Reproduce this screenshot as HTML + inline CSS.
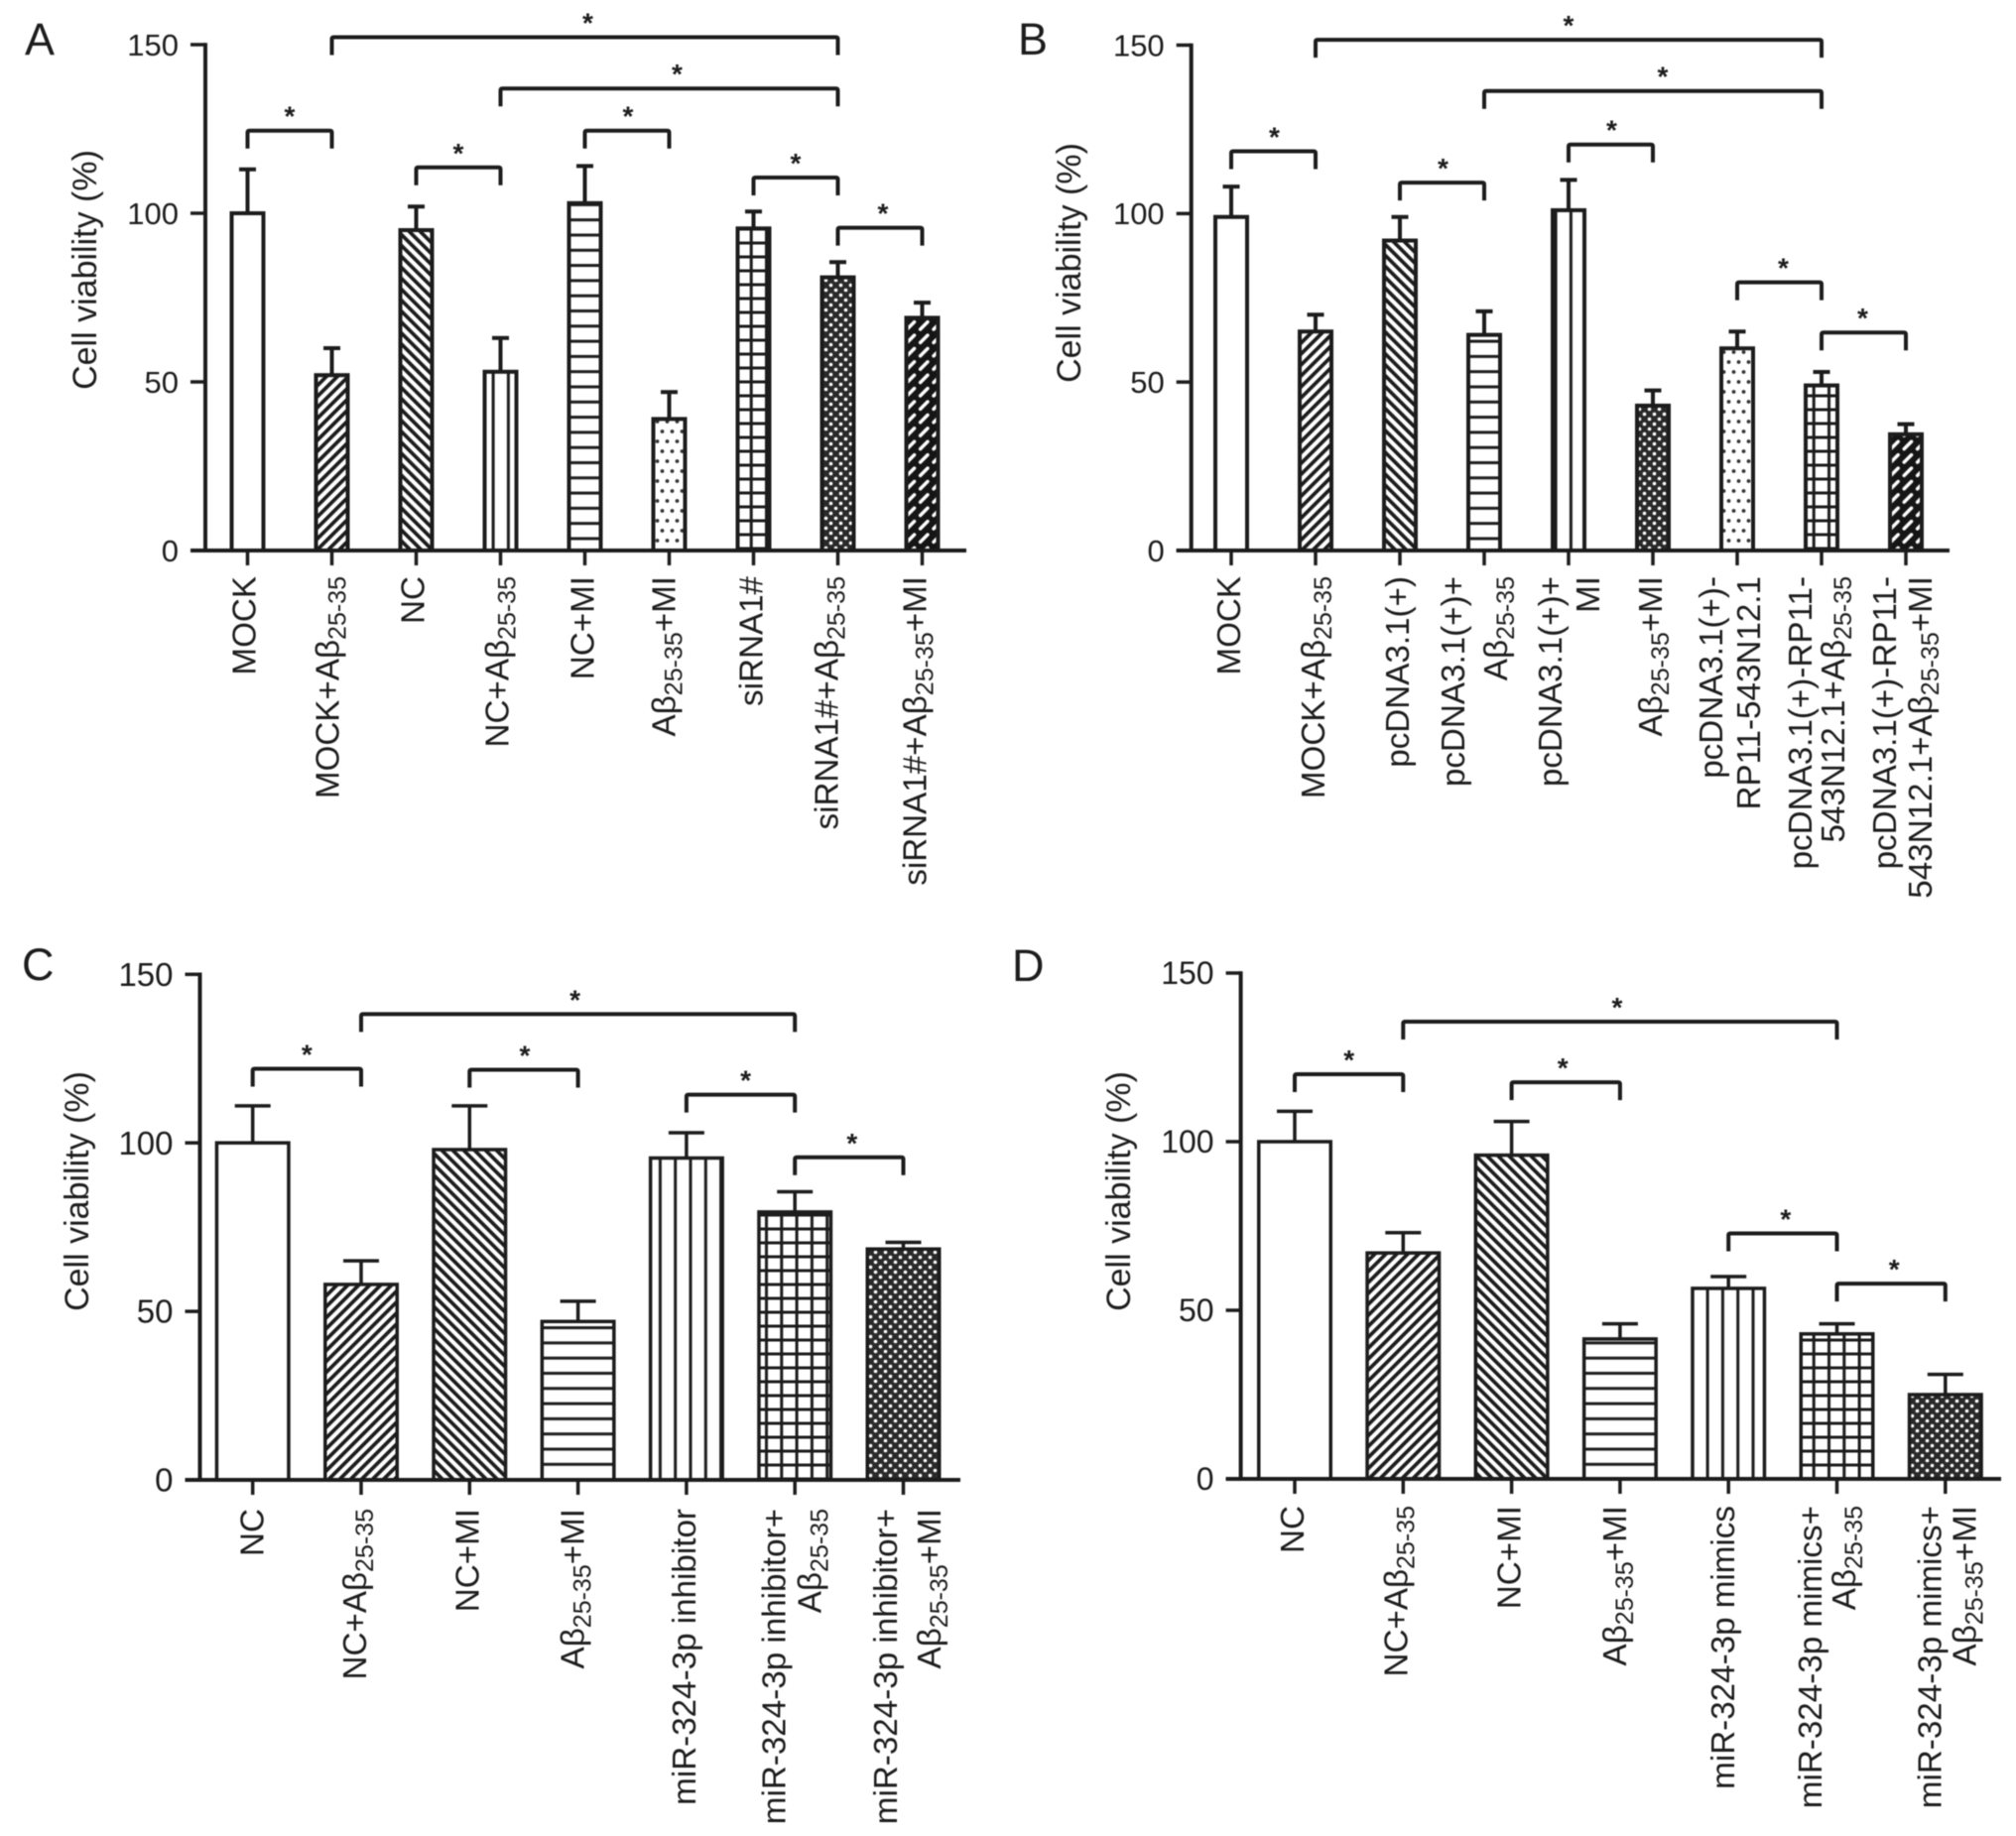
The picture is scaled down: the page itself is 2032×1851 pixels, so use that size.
<!DOCTYPE html>
<html lang="en">
<head>
<meta charset="utf-8">
<title>Cell viability bar charts</title>
<style>
html,body{margin:0;padding:0;background:#fff;}
#figure{display:block;width:2032px;height:1851px;filter:blur(0.5px);}
text{font-family:"Liberation Sans","DejaVu Sans",sans-serif;fill:#1c1c1c;}
</style>
</head>
<body>
<svg id="figure" xmlns="http://www.w3.org/2000/svg" width="2032" height="1851" viewBox="0 0 2032 1851">
<defs>
<pattern id="p-up" patternUnits="userSpaceOnUse" width="7.8" height="7.8" patternTransform="rotate(45)"><rect width="7.8" height="7.8" fill="#fff"/><rect x="0" y="0" width="3.7" height="7.8" fill="#1c1c1c"/></pattern>
<pattern id="p-down" patternUnits="userSpaceOnUse" width="7.8" height="7.8" patternTransform="rotate(-45)"><rect width="7.8" height="7.8" fill="#fff"/><rect x="0" y="0" width="3.7" height="7.8" fill="#1c1c1c"/></pattern>
<pattern id="p-h" patternUnits="userSpaceOnUse" width="15.3" height="15.3"><rect width="15.3" height="15.3" fill="#fff"/><rect y="6" width="15.3" height="3" fill="#1c1c1c"/></pattern>
<pattern id="p-v" patternUnits="userSpaceOnUse" width="15.3" height="15.3"><rect width="15.3" height="15.3" fill="#fff"/><rect x="6" width="3" height="15.3" fill="#1c1c1c"/></pattern>
<pattern id="p-grid" patternUnits="userSpaceOnUse" width="15.3" height="14"><rect width="15.3" height="14" fill="#fff"/><rect x="6" width="3" height="14" fill="#1c1c1c"/><rect y="5.5" width="15.3" height="3" fill="#1c1c1c"/></pattern>
<pattern id="p-dots" patternUnits="userSpaceOnUse" width="10" height="20"><rect width="10" height="20" fill="#fff"/><circle cx="2.5" cy="5" r="1.9" fill="#333"/><circle cx="7.5" cy="15" r="1.9" fill="#333"/></pattern>
<pattern id="p-check" patternUnits="userSpaceOnUse" width="10" height="10"><rect width="10" height="10" fill="#2a2a2a"/><circle cx="2.5" cy="2.5" r="1.8" fill="#fff"/><circle cx="7.5" cy="7.5" r="1.8" fill="#fff"/></pattern>
<pattern id="p-dark" patternUnits="userSpaceOnUse" width="13.4" height="13.4"><rect width="13.4" height="13.4" fill="#151515"/><line x1="3" y1="10.4" x2="10.4" y2="3" stroke="#fff" stroke-width="3.4" stroke-linecap="round"/></pattern>
</defs>
</svg>
<script>
const yTicks = [0, 50, 100, 150];
const yAxisMax = 150;

const categoriesA = ["MOCK", "MOCK+Aβ{25-35}", "NC", "NC+Aβ{25-35}", "NC+MI", "Aβ{25-35}+MI", "siRNA1#", "siRNA1#+Aβ{25-35}", "siRNA1#+Aβ{25-35}+MI"];
const valuesA = [100, 52, 95, 53, 103, 39, 95.5, 81, 69];
const errorTopsA = [113, 60, 102, 63, 114, 47, 100.5, 85.5, 73.5];
const hatchesA = ["none", "up", "down", "v", "h", "dots", "grid", "check", "dark"];
const bracketFromA = [1, 3, 0, 2, 4, 6, 7];
const bracketToA = [7, 7, 1, 3, 5, 7, 8];
const bracketLevelA = [152.2, 137, 124.5, 113.6, 124.5, 110.6, 95.7];

const categoriesB = ["MOCK", "MOCK+Aβ{25-35}", "pcDNA3.1(+)", "pcDNA3.1(+)+|Aβ{25-35}", "pcDNA3.1(+)+|MI", "Aβ{25-35}+MI", "pcDNA3.1(+)-|RP11-543N12.1", "pcDNA3.1(+)-RP11-|543N12.1+Aβ{25-35}", "pcDNA3.1(+)-RP11-|543N12.1+Aβ{25-35}+MI"];
const valuesB = [99, 65, 92, 64, 101, 43, 60, 49, 34.5];
const errorTopsB = [108, 70, 99, 71, 110, 47.5, 65, 53, 37.5];
const hatchesB = ["none", "up", "down", "h", "v", "check", "dots", "grid", "dark"];
const bracketFromB = [1, 3, 0, 2, 4, 6, 7];
const bracketToB = [7, 7, 1, 3, 5, 7, 8];
const bracketLevelB = [151.6, 136.4, 118.5, 109.2, 120.5, 79.6, 64.7];

const categoriesC = ["NC", "NC+Aβ{25-35}", "NC+MI", "Aβ{25-35}+MI", "miR-324-3p inhibitor", "miR-324-3p inhibitor+|Aβ{25-35}", "miR-324-3p inhibitor+|Aβ{25-35}+MI"];
const valuesC = [100, 58, 98, 47, 95.5, 79.5, 68.5];
const errorTopsC = [111, 65, 111, 53, 103, 85.5, 70.5];
const hatchesC = ["none", "up", "down", "h", "v", "grid", "check"];
const bracketFromC = [1, 0, 2, 4, 5];
const bracketToC = [5, 1, 3, 5, 6];
const bracketLevelC = [138.2, 122, 121.7, 114.3, 95.7];

const categoriesD = ["NC", "NC+Aβ{25-35}", "NC+MI", "Aβ{25-35}+MI", "miR-324-3p mimics", "miR-324-3p mimics+|Aβ{25-35}", "miR-324-3p mimics+|Aβ{25-35}+MI"];
const valuesD = [100, 67, 96, 41.5, 56.5, 43, 25];
const errorTopsD = [109, 73, 106, 46, 60, 46, 31];
const hatchesD = ["none", "up", "down", "h", "v", "grid", "check"];
const bracketFromD = [1, 0, 2, 4, 5];
const bracketToD = [5, 1, 3, 5, 6];
const bracketLevelD = [135.6, 120, 117.6, 72.8, 57.9];

const INK = "#1c1c1c";
const svg = document.getElementById("figure");

function make(parent, tag, attrs) {
  const el = document.createElementNS("http://www.w3.org/2000/svg", tag);
  for (const k in attrs) el.setAttribute(k, attrs[k]);
  parent.appendChild(el);
  return el;
}

function slug(s) {
  return s.replace(/β/g, "b").replace(/[^A-Za-z0-9]+/g, "-").replace(/^-|-$/g, "").toLowerCase();
}

function addLine(g, text, x, top, size) {
  const t = make(g, "text", { transform: "translate(" + x + "," + top + ") rotate(-90)", "text-anchor": "end", "font-size": size });
  const parts = text.split(/(\{[^}]*\})/).filter(Boolean);
  let shifted = false;
  parts.forEach(function (part) {
    const ts = make(t, "tspan", {});
    if (part.charAt(0) === "{") {
      ts.setAttribute("font-size", 25);
      ts.setAttribute("dy", 7);
      ts.textContent = part.slice(1, -1);
      shifted = true;
    } else {
      if (shifted) { ts.setAttribute("dy", -7); shifted = false; }
      ts.textContent = part;
    }
  });
  return t;
}

function drawPanel(p) {
  const g = make(svg, "g", {});
  
  

  const yScale = function (v) { return p.y0 - (v / yAxisMax) * (p.y0 - p.y150); };
  const xScale = function (i) { return p.x0 + i * p.step; };

  const letter = make(g, "text", { x: p.letterX, y: p.letterY, "font-size": 45 });
  letter.textContent = p.id.toUpperCase();
  
  

  const title = make(g, "text", { transform: "translate(" + (p.titleX + 11) + "," + p.titleY + ") rotate(-90)", "text-anchor": "middle", "font-size": 34 });
  title.textContent = "Cell viability (%)";
  
  

  p.values.forEach(function (v, i) {
    const cx = xScale(i);
    const name = slug(p.categories[i].replace("|", " "));

    const err = make(g, "path", {
      d: "M" + cx + " " + yScale(v) + "V" + yScale(p.errorTops[i]) + "M" + (cx - p.capW / 2) + " " + yScale(p.errorTops[i]) + "H" + (cx + p.capW / 2),
      fill: "none", stroke: INK, "stroke-width": p.sw
    });
    
    

    const hatch = p.hatches[i];
    const bar = make(g, "rect", {
      x: cx - p.barW / 2, y: yScale(v), width: p.barW, height: p.y0 - yScale(v),
      fill: hatch === "none" ? "#fff" : "url(#p-" + hatch + ")", stroke: INK, "stroke-width": p.sw
    });
    
    

    const tick = make(g, "line", { x1: cx, x2: cx, y1: p.y0, y2: p.y0 + 15, stroke: INK, "stroke-width": 3.5 });
    
    

    const lines = p.categories[i].split("|");
    const nudge = p.labelNudge[i] || [0, 0];
    const label = make(g, "g", {});
    
    
    if (lines.length === 1) {
      addLine(label, lines[0], cx - 3 + 12 + nudge[0], p.labelTop, 33.2);
    } else {
      addLine(label, lines[0], cx + p.twoLineShift - p.lineGap / 2 + 12 + nudge[0], p.labelTop, 33.2);
      addLine(label, lines[1], cx + p.twoLineShift + p.lineGap / 2 + 12 + nudge[1], p.labelTop, 33.2);
    }
  });

  const yAxis = make(g, "line", { x1: p.axisX, x2: p.axisX, y1: yScale(yAxisMax) - 1.75, y2: p.y0, stroke: INK, "stroke-width": 4 });
  
  

  const xAxis = make(g, "line", { x1: p.axisX - 15, x2: p.axisEnd, y1: p.y0, y2: p.y0, stroke: INK, "stroke-width": 4 });
  
  

  yTicks.forEach(function (t) {
    const tick = make(g, "line", { x1: p.axisX - 15, x2: p.axisX, y1: yScale(t), y2: yScale(t), stroke: INK, "stroke-width": 3.5 });
    
    
    const label = make(g, "text", { x: p.axisX - 27, y: yScale(t) + p.tickSize * 0.35, "text-anchor": "end", "font-size": p.tickSize });
    label.textContent = String(t);
    
    
  });

  p.bracketFrom.forEach(function (from, k) {
    const x1 = xScale(from);
    const x2 = xScale(p.bracketTo[k]);
    const y = yScale(p.bracketLevel[k]);
    const br = make(g, "path", {
      d: "M" + x1 + " " + (y + 18) + "V" + (y + 2) + "Q" + x1 + " " + y + " " + (x1 + 2) + " " + y + "H" + (x2 - 2) + "Q" + x2 + " " + y + " " + x2 + " " + (y + 2) + "V" + (y + 18),
      fill: "none", stroke: INK, "stroke-width": 4
    });
    
    
    const star = make(g, "text", { x: (x1 + x2) / 2 + p.starNudge[k], y: y - 5, "text-anchor": "middle", "font-size": 28, "font-weight": "bold" });
    star.textContent = "*";
    
    
  });
}

drawPanel({ id: "a", categories: categoriesA, values: valuesA, errorTops: errorTopsA, hatches: hatchesA,
  bracketFrom: bracketFromA, bracketTo: bracketToA, bracketLevel: bracketLevelA,
  starNudge: [3, 8, 0, 0, 1, 0, 3], labelNudge: [[-1, 0], [-2, 0], [-1, 0], [-1, 0], [0, 0], [-3, 0], [0, 0], [-9, 0], [-5, 0]],
  x0: 249.5, step: 85, y0: 555, y150: 45, axisX: 207, axisEnd: 974, barW: 32, capW: 17, sw: 4, tickSize: 31,
  labelTop: 581, lineGap: 38, twoLineShift: 0, letterX: 25, letterY: 55, titleX: 86, titleY: 272 });

drawPanel({ id: "b", categories: categoriesB, values: valuesB, errorTops: errorTopsB, hatches: hatchesB,
  bracketFrom: bracketFromB, bracketTo: bracketToB, bracketLevel: bracketLevelB,
  starNudge: [0, 10, 1, 1, 1, 4, -1], labelNudge: [[0, 0], [0, 0], [0, 0], [-13, -8], [0, 0], [0, 0], [-8, -8], [-3, -8], [-3, -5]],
  x0: 1241, step: 85, y0: 555, y150: 45.5, axisX: 1200.7, axisEnd: 1965, barW: 32, capW: 17, sw: 4, tickSize: 31,
  labelTop: 581, lineGap: 38, twoLineShift: 0, letterX: 1026, letterY: 55, titleX: 1078, titleY: 265 });

drawPanel({ id: "c", categories: categoriesC, values: valuesC, errorTops: errorTopsC, hatches: hatchesC,
  bracketFrom: bracketFromC, bracketTo: bracketToC, bracketLevel: bracketLevelC,
  starNudge: [-3, 0, 1, 5, 3], labelNudge: [[2, 0], [-4, 0], [0, 0], [-3, 0], [0, 0], [-6, -11], [-3, 0]],
  x0: 254.7, step: 109.3, y0: 1492, y150: 982.3, axisX: 201.5, axisEnd: 968, barW: 72.5, capW: 36, sw: 3.5, tickSize: 33,
  labelTop: 1521, lineGap: 41, twoLineShift: 5, letterX: 22, letterY: 988, titleX: 78, titleY: 1201 });

drawPanel({ id: "d", categories: categoriesD, values: valuesD, errorTops: errorTopsD, hatches: hatchesD,
  bracketFrom: bracketFromD, bracketTo: bracketToD, bracketLevel: bracketLevelD,
  starNudge: [-3, 0, -3, 3, 3], labelNudge: [[0, 0], [-5, 0], [0, 0], [-3, 0], [-3, 0], [-12, -19], [-1, -7]],
  x0: 1305, step: 109.3, y0: 1491, y150: 981, axisX: 1250.6, axisEnd: 2017, barW: 72.5, capW: 36, sw: 3.5, tickSize: 32,
  labelTop: 1518, lineGap: 41, twoLineShift: 5, letterX: 1020, letterY: 989, titleX: 1128, titleY: 1201 });
</script>
</body>
</html>
